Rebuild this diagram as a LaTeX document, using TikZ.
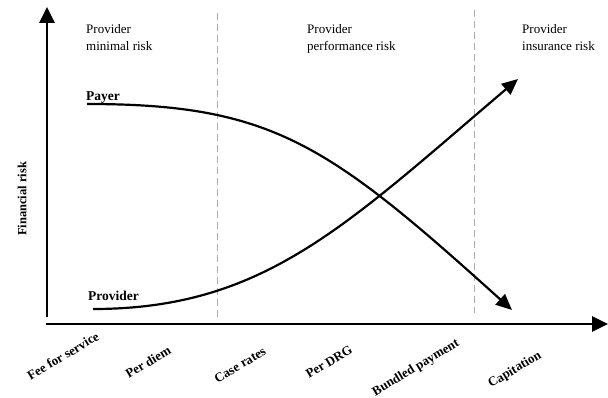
\documentclass[tikz,border=0pt]{standalone}
\usepackage{fontspec}
\setmainfont{Liberation Serif}
\usetikzlibrary{arrows.meta}
\begin{document}
\begin{tikzpicture}[x=1pt,y=-1pt,
  axis/.style={line width=2.8pt,-{Triangle[length=16pt,width=15pt]}},
  curve/.style={line width=2.2pt,-{Triangle[length=16pt,width=14pt]}},
  divider/.style={draw=black!33,line width=1pt,dash pattern=on 7pt off 4pt},
  toptext/.style={font=\fontsize{13}{17}\selectfont,align=left,anchor=base west,inner sep=0pt},
  curvelabel/.style={font=\fontsize{13.5}{16}\selectfont\bfseries,anchor=base west,inner sep=0pt},
  ticklabel/.style={font=\fontsize{13}{16}\selectfont\bfseries,rotate=31,inner sep=0pt}]
\useasboundingbox (0,0) rectangle (608,398);
% axes
\coordinate (ybot) at (47,317);
\coordinate (ytop) at (47,7);
\coordinate (xleft) at (46,324);
\coordinate (xright) at (608,324);
\draw[axis] (ybot) -- (ytop);
\draw[axis] (xleft) -- (xright);
% dividers
\coordinate (d1t) at (217,13);
\coordinate (d1b) at (217,317);
\coordinate (d2t) at (474,10);
\coordinate (d2b) at (474,313);
\draw[divider] (d1t) -- (d1b);
\draw[divider] (d2t) -- (d2b);
% region texts
\node[toptext] (r1) at (86,50.5) {Provider\\minimal risk};
\node[toptext] (r2) at (307,50.5) {Provider\\performance risk};
\node[toptext] (r3) at (522,50.5) {Provider\\insurance risk};
% y label
\node[font=\fontsize{12.5}{15}\selectfont\bfseries,rotate=90,inner sep=0pt] (ylab) at (22,199) {Financial risk};
% curves
\coordinate (p0) at (87,104);
\coordinate (pc1) at (272,104);
\coordinate (pc2) at (328,144);
\coordinate (p1) at (512,310);
\draw[curve] (p0) .. controls (pc1) and (pc2) .. (p1);
\coordinate (q0) at (93,309);
\coordinate (qc1) at (264,309);
\coordinate (qc2) at (345.5,225.6);
\coordinate (q1) at (518,79);
\draw[curve] (q0) .. controls (qc1) and (qc2) .. (q1);
\node[curvelabel] (payer) at (86,101) {Payer};
\node[curvelabel] (provider) at (88,301) {Provider};
% tick labels
\node[ticklabel] (t1) at (63,356) {Fee for service};
\node[ticklabel] (t2) at (148,362) {Per diem};
\node[ticklabel] (t3) at (240,365) {Case rates};
\node[ticklabel] (t4) at (329,362) {Per DRG};
\node[ticklabel] (t5) at (416,368) {Bundled payment};
\node[ticklabel] (t6) at (515,370) {Capitation};
\end{tikzpicture}
\end{document}
